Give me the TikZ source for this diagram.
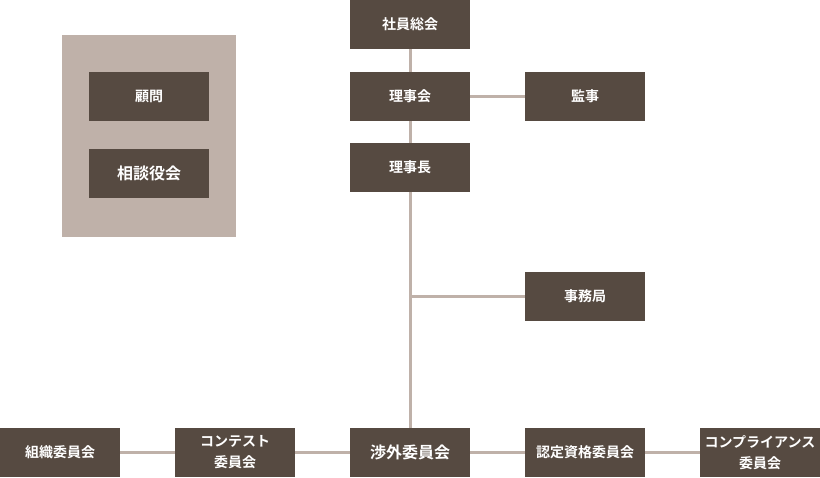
\documentclass[tikz,border=0pt]{standalone}
\usepackage{fontspec}
\newfontfamily\cjk{Noto Sans CJK JP}[BoldFont={Noto Sans CJK JP Bold}]
\usepackage{tikz}
\usetikzlibrary{positioning, backgrounds}
\definecolor{boxbrown}{HTML}{564A41}
\definecolor{linebrown}{HTML}{BFB1A9}

\tikzset{
  orgbox/.style={fill=boxbrown, text=white, minimum width=120pt, minimum height=49pt,
    inner sep=0pt, align=center, font=\cjk\bfseries\fontsize{14}{21}\selectfont},
  bigbox/.style={orgbox, font=\cjk\bfseries\fontsize{16}{21}\selectfont},
  orgline/.style={draw=linebrown, line width=3pt}
}

\begin{document}
\begin{tikzpicture}[x=1pt,y=-1pt]
\useasboundingbox (0,0) rectangle (820,477);

% Advisers panel
\fill[linebrown] (62,35) rectangle (236,237);
\node[orgbox] (komon) at (149,96) {顧問};
\node[bigbox] (sodan) at (149,173) {相談役会};

% Main column
\node[orgbox] (soukai) at (410,24.5) {社員総会};
\node[orgbox] (rijikai) at (410,96) {理事会};
\node[orgbox] (rijicho) at (410,167.5) {理事長};
\node[orgbox] (kanji) at (585,96) {監事};
\node[orgbox] (jimu) at (585,296.5) {事務局};

% Committees
\node[bigbox] (shogai) at (410,452.5) {渉外委員会};
\node[orgbox] (contest) at (235,452.5) {コンテスト\\委員会};
\node[orgbox] (soshiki) at (60,452.5) {組織委員会};
\node[orgbox] (nintei) at (585,452.5) {認定資格委員会};
\node[orgbox] (comp) at (760,452.5) {コンプライアンス\\委員会};

% Connectors
\begin{scope}[on background layer]
\draw[orgline] (soukai) -- (shogai);
\draw[orgline] (rijikai) -- (kanji);
\draw[orgline] (jimu.west) -- (jimu.west -| rijicho);
\draw[orgline] (soshiki) -- (comp);
\end{scope}
\end{tikzpicture}
\end{document}
